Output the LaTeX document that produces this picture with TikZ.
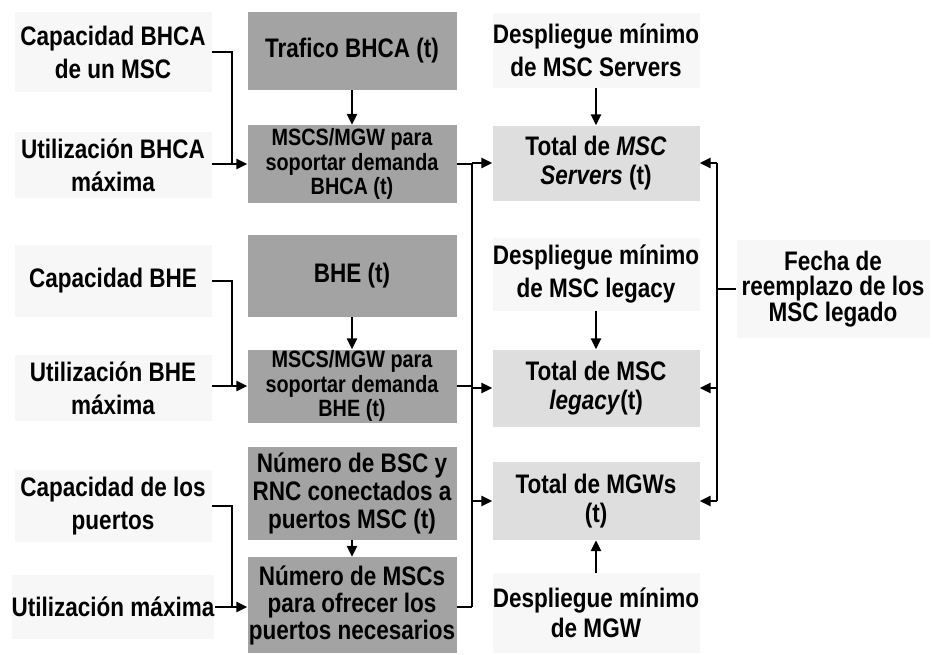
\documentclass[tikz,border=0pt]{standalone}
\usepackage{fontspec}
\setmainfont{Liberation Sans}[FakeStretch=0.84]
\usetikzlibrary{arrows.meta,positioning}

\begin{document}
\begin{tikzpicture}[
            x=1pt, y=-1pt,
            every node/.style={ align=center, inner sep=0pt, font=\bfseries\fontsize{26.8}{29}\selectfont },
            inbox/.style={ fill=black!3, minimum width=197pt, font=\bfseries\fontsize{26.8}{33}\selectfont },
            calcbox/.style={ fill=black!36, minimum width=209pt },
            smalltext/.style={ font=\bfseries\fontsize{23.6}{24.5}\selectfont },
            totbox/.style={ fill=black!13, minimum width=207pt },
            despbox/.style={ fill=black!3, minimum width=207pt, font=\bfseries\fontsize{26.8}{33}\selectfont },
            link/.style={ line width=2.8pt },
            arr/.style={ link, -{Triangle[length=11pt,width=10pt]} }
        ]
        \useasboundingbox (0,0) rectangle (933,654);

        % entradas
        \node[inbox, minimum height=80pt] (capBHCA) at (113,52) {Capacidad BHCA\\de un MSC};
        \node[inbox, minimum height=66pt] (utiBHCA) at (113,165) {Utilización BHCA\\máxima};
        \node[inbox, minimum height=72pt] (capBHE) at (113,281) {Capacidad BHE};
        \node[inbox, minimum height=66pt] (utiBHE) at (113,388) {Utilización BHE\\máxima};
        \node[inbox, minimum height=72pt] (capPuertos) at (113,506) {Capacidad de los\\puertos};
        \node[inbox, minimum height=64pt] (utiMax) at (113,607) {Utilización máxima};

        % calculos
        \node[calcbox, minimum height=78pt] (trafico) at (352,51) {Trafico BHCA (t)};
        \node[calcbox, smalltext, minimum height=78pt] (mscsBHCA) at (352,164) {MSCS/MGW para\\soportar demanda\\BHCA (t)};
        \node[calcbox, minimum height=82pt] (bhe) at (352,276) {BHE (t)};
        \node[calcbox, smalltext, minimum height=73pt] (mscsBHE) at (352,386) {MSCS/MGW para\\soportar demanda\\BHE (t)};
        \node[calcbox, font=\bfseries\fontsize{26.8}{28}\selectfont, minimum height=93pt] (numBSC) at (352,493) {Número de BSC y\\RNC conectados a\\puertos MSC (t)};
        \node[calcbox, font=\bfseries\fontsize{26.8}{27}\selectfont, minimum height=96pt] (numMSC) at (352,605) {Número de MSCs\\para ofrecer los\\puertos necesarios};

        % totales
        \node[despbox, minimum height=75pt] (despServers) at (596,50) {Despliegue mínimo\\de MSC Servers};
        \node[totbox, minimum height=75pt] (totServers) at (596,163) {Total de \textit{MSC}\\\textit{Servers} (t)};
        \node[despbox, minimum height=73pt] (despLegacy) at (596,274) {Despliegue mínimo\\de MSC legacy};
        \node[totbox, minimum height=77pt] (totLegacy) at (596,388) {Total de MSC\\\textit{legacy}(t)};
        \node[totbox, minimum height=78pt] (totMGW) at (596,501) {Total de MGWs\\(t)};
        \node[despbox, font=\bfseries\fontsize{26.8}{30}\selectfont, minimum height=80pt] (despMGW) at (596,613) {Despliegue mínimo\\de MGW};
        \node[inbox, font=\bfseries\fontsize{26.8}{25.5}\selectfont, minimum width=193pt, minimum height=98pt] (fecha) at (833,289) {Fecha de\\reemplazo de los\\MSC legado};

        \coordinate (jL) at (232,0);
        \coordinate (busL) at (472,0);
        \coordinate (busR) at (717,0);

        % entradas a los calculos
        \draw[link] (capBHCA.east) -| (jL |- mscsBHCA.west);
        \draw[arr] (utiBHCA.east |- mscsBHCA.west) -- (mscsBHCA.west);
        \draw[link] (capBHE.east) -| (jL |- mscsBHE.west);
        \draw[arr] (utiBHE.east |- mscsBHE.west) -- (mscsBHE.west);
        \draw[link] (capPuertos.east) -| (jL |- utiMax.east);
        \draw[arr] (utiMax.east) -- (utiMax.east -| numMSC.west);
        \draw[arr] (trafico) -- (mscsBHCA);
        \draw[arr] (bhe) -- (mscsBHE);
        \draw[arr] (numBSC) -- (numMSC);

        % bus izquierdo
        \draw[link] (mscsBHCA.east) -- (mscsBHCA.east -| busL);
        \draw[link] (mscsBHE.east) -- (mscsBHE.east -| busL);
        \draw[link] (numMSC.east |- utiMax.east) -- (busL |- utiMax.east);
        \draw[link] (busL |- totServers.west) -- (busL |- utiMax.east);
        \draw[arr] (busL |- totServers.west) -- (totServers.west);
        \draw[arr] (busL |- totLegacy.west) -- (totLegacy.west);
        \draw[arr] (busL |- totMGW.west) -- (totMGW.west);

        % bus derecho
        \draw[link] (busR |- totServers.east) -- (busR |- totMGW.east);
        \draw[arr] (busR |- totServers.east) -- (totServers.east);
        \draw[arr] (busR |- totLegacy.east) -- (totLegacy.east);
        \draw[arr] (busR |- totMGW.east) -- (totMGW.east);
        \draw[link] (fecha.west) -- (fecha.west -| busR);

        \draw[arr] (despServers) -- (totServers);
        \draw[arr] (despLegacy) -- (totLegacy);
        \draw[arr] (despMGW) -- (totMGW);
    \end{tikzpicture}
\end{document}
